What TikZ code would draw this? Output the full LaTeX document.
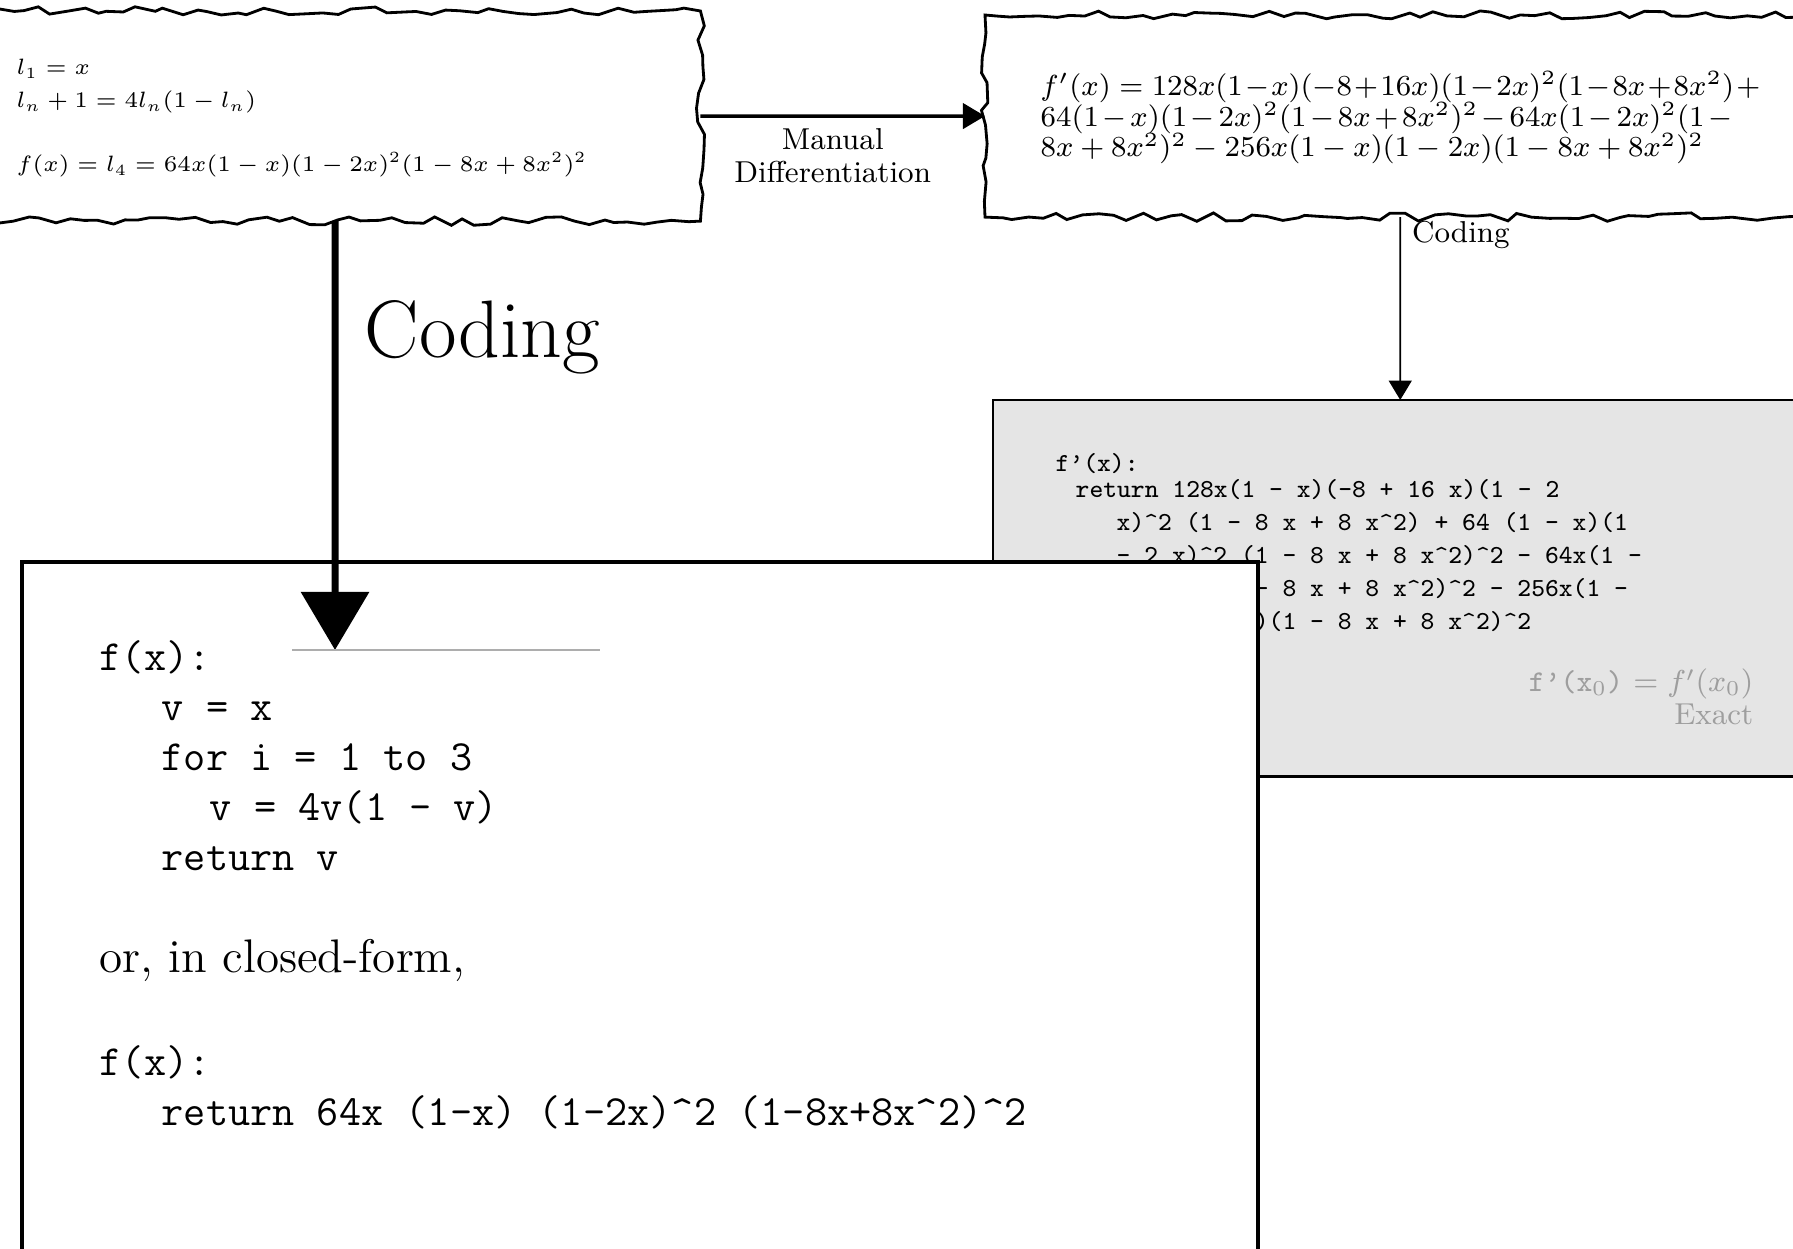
\RequirePackage{fix-cm}
\documentclass[tikz,border=0pt]{standalone}
\usetikzlibrary{arrows.meta,positioning,decorations.pathmorphing}
\definecolor{PanelClr}{gray}{0.9}
\definecolor{NoteClr}{gray}{0.62}
\definecolor{RuleClr}{gray}{0.68}
\newcommand\pwr{\textasciicircum}

\begin{document}
\begin{tikzpicture}[x=0.01cm,y=-0.01cm,
  wavybox/.style={draw,line width=0.8pt,inner sep=0pt,outer sep=0pt,anchor=north west,
    decorate,decoration={random steps,segment length=4pt,amplitude=1.2pt}},
  flatbox/.style={draw,inner sep=0pt,outer sep=0pt,anchor=north west},
  mathtext/.style={inner sep=0pt,align=left,font=\fontsize{6.32}{9.4}\selectfont},
  labeltext/.style={inner sep=0pt,align=center,font=\fontsize{8.6}{9.4}\selectfont},
  codetext/.style={inner sep=0pt,align=left,font=\ttfamily\fontsize{7.4}{9.4}\selectfont}]
\pgfmathsetseed{7}
\useasboundingbox (0,0) rectangle (1793,1249);

% The two hand-drawn boxes at the top.
\node[wavybox,minimum width=7.30cm,minimum height=2.10cm] (recbox) at (-30,11) {};
\node[wavybox,minimum width=8.30cm,minimum height=2.02cm] (derivbox) at (985,15) {};

% (multi-line nodes sit on the baseline of their last line)
\node[mathtext,anchor=base west] (rectext) at (16,172)
  {$l_1 = x$\\
   $l_n + 1 = 4l_n(1 - l_n)$\\[8.8pt]
   $f(x) = l_4 = 64x(1-x)(1-2x)^2(1-8x+8x^2)^2$};

\node[mathtext,anchor=base west,font=\fontsize{8.25}{8.8}\selectfont] (derivtext) at (1040,157)
  {$\medmuskip=1.3mu f'(x) = 128x(1-x)(-8+16x)(1-2x)^2(1-8x+8x^2)+{}$\\
   $\medmuskip=2.2mu 64(1-x)(1-2x)^2(1-8x+8x^2)^2 - 64x(1-2x)^2(1-{}$\\
   $8x+8x^2)^2 - 256x(1-x)(1-2x)(1-8x+8x^2)^2$};

% The grey panel with the coded derivative.
\node[flatbox,fill=PanelClr,line width=0.8pt,minimum width=8.14cm,minimum height=3.76cm] (greybox) at (993,400) {};

\node[codetext,anchor=base west] (dcode) at (1055,630)
  {f’(x):\\[-2pt]
   \hspace*{0.20cm}return 128x(1 - x)(-8 + 16 x)(1 - 2\\
   \hspace*{0.61cm}x)\pwr2 (1 - 8 x + 8 x\pwr2) + 64 (1 - x)(1\\
   \hspace*{0.61cm}- 2 x)\pwr2 (1 - 8 x + 8 x\pwr2)\pwr2 - 64x(1 -\\
   \hspace*{0.61cm}2 x)\pwr2 (1 - 8 x + 8 x\pwr2)\pwr2 - 256x(1 -\\
   \hspace*{0.61cm}x)(1 - 2 x)(1 - 8 x + 8 x\pwr2)\pwr2};

\node[labeltext,align=right,text=NoteClr,anchor=base east] (exact) at (1754,725)
  {\texttt{f’(x$_0$)} $= f'(x_0)$\\Exact};

% The white panel with the coded function.
\node[flatbox,fill=white,line width=1.15pt,minimum width=12.35cm,minimum height=8cm] (codebox) at (22,562) {};

\node[codetext,anchor=base west,font=\ttfamily\fontsize{12.25}{14.2}\selectfont] (fcode) at (99,1125)
  {f(x):\\
   \hspace*{0.62cm}v = x\\
   \hspace*{0.62cm}for i = 1 to 3\\
   \hspace*{1.10cm}v = 4v(1 - v)\\
   \hspace*{0.62cm}return v\\[14.8pt]
   {\rmfamily\fontsize{13.4}{14.2}\selectfont or, in closed-form,}\\[15pt]
   f(x):\\
   \hspace*{0.62cm}return 64x (1-x) (1-2x)\pwr2 (1-8x+8x\pwr2)\pwr2};

% Connectors.
\draw[line width=1pt,-{Triangle[length=6.3pt,width=7.2pt]}] (recbox.east) --
  node[labeltext,below=3pt,xshift=-0.1cm] (manual) {Manual\\Differentiation} (derivbox.west);

\draw[line width=0.5pt,-{Triangle[length=5.5pt,width=6.5pt]}] (derivbox.south) --
  node[labeltext,pos=0,anchor=north west,xshift=0.11cm,yshift=-1pt] (smallcoding) {Coding} (greybox.north);

\coordinate (tip) at (335,650);
\draw[line width=2pt,-{Triangle[length=16.5pt,width=19pt]}] (recbox.south) -- (tip);
\node[inner sep=0pt,anchor=base west,font=\fontsize{23.2}{27}\selectfont] (bigcoding) at (364,358) {Coding};

\draw[RuleClr,line width=0.4pt] (292,650) -- (600,650);

\end{tikzpicture}
\end{document}
